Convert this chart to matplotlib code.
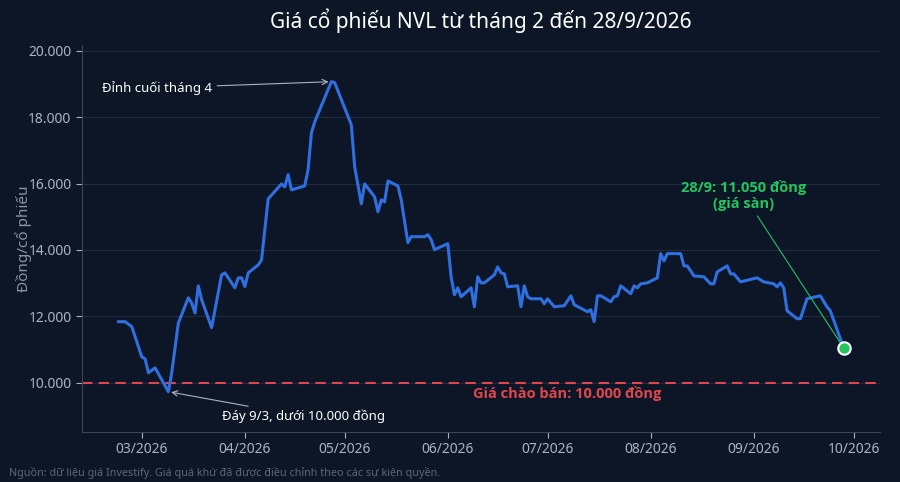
import matplotlib
matplotlib.use("Agg")
import matplotlib.pyplot as plt
import matplotlib.dates as mdates
import pandas as pd

plt.rcParams['font.family'] = ['Noto Sans', 'DejaVu Sans']

dates = ["2026-02-22","2026-02-24","2026-02-26","2026-03-01","2026-03-02","2026-03-03","2026-03-05","2026-03-09",
"2026-03-10","2026-03-12","2026-03-15","2026-03-16","2026-03-17","2026-03-18","2026-03-19","2026-03-22","2026-03-25",
"2026-03-26","2026-03-29","2026-03-30","2026-03-31","2026-04-01","2026-04-02","2026-04-05","2026-04-06","2026-04-08",
"2026-04-12","2026-04-13","2026-04-14","2026-04-15","2026-04-19","2026-04-20","2026-04-21","2026-04-22","2026-04-27",
"2026-04-28","2026-05-03","2026-05-04","2026-05-06","2026-05-07","2026-05-10","2026-05-11","2026-05-12","2026-05-13",
"2026-05-14","2026-05-17","2026-05-18","2026-05-20","2026-05-21","2026-05-25","2026-05-26","2026-05-27","2026-05-28",
"2026-06-01","2026-06-02","2026-06-03","2026-06-04","2026-06-05","2026-06-08","2026-06-09","2026-06-10","2026-06-11",
"2026-06-12","2026-06-15","2026-06-16","2026-06-17","2026-06-18","2026-06-19","2026-06-22","2026-06-23","2026-06-24",
"2026-06-25","2026-06-26","2026-06-29","2026-06-30","2026-07-01","2026-07-03","2026-07-06","2026-07-08","2026-07-09",
"2026-07-13","2026-07-14","2026-07-15","2026-07-16","2026-07-17","2026-07-20","2026-07-21","2026-07-22","2026-07-23",
"2026-07-26","2026-07-27","2026-07-28","2026-07-29","2026-07-31","2026-08-03","2026-08-04","2026-08-05","2026-08-06",
"2026-08-10","2026-08-11","2026-08-12","2026-08-14","2026-08-17","2026-08-19","2026-08-20","2026-08-21","2026-08-24",
"2026-08-25","2026-08-26","2026-08-28","2026-09-02","2026-09-04","2026-09-07","2026-09-08","2026-09-09","2026-09-10",
"2026-09-11","2026-09-14","2026-09-15","2026-09-17","2026-09-21","2026-09-23","2026-09-24","2026-09-28"]
prices = [11840,11840,11690,10780,10720,10300,10450,9730,
10300,11800,12560,12400,12100,12920,12500,11660,13250,
13310,12860,13160,13160,12900,13310,13550,13700,15540,
15990,15900,16270,15810,15930,16420,17530,17860,19070,
19040,17770,16510,15390,15990,15600,15150,15510,15450,
16080,15930,15510,14220,14400,14400,14460,14310,14010,
14190,13190,12650,12860,12590,12860,12290,13190,13010,
13010,13250,13490,13310,13280,12890,12920,12290,12920,
12590,12530,12530,12380,12530,12290,12320,12620,12350,
12140,12200,11840,12620,12620,12440,12590,12620,12920,
12680,12920,12860,12980,13010,13160,13890,13670,13890,
13890,13520,13520,13220,13190,12980,12980,13340,13520,
13280,13280,13040,13160,13040,12980,12890,13010,12860,
12170,11930,11930,12530,12620,12290,12170,11050]
offer_price = 10000

BG = '#0c1627'
BOLD = ['Open Sans', 'DejaVu Sans']
x = pd.to_datetime(dates)

fig = plt.figure(figsize=(9, 4.82), dpi=100, facecolor=BG)
ax = fig.add_axes([0.091, 0.104, 0.887, 0.803], facecolor=BG)

ax.plot(x, prices, color='#2f6fe0', lw=2.2, zorder=3)
ax.axhline(offer_price, color='#e0474c', ls=(0, (5, 3)), lw=1.5, zorder=2)
ax.scatter([x[-1]], [prices[-1]], s=80, color='#22c55e', edgecolor='white', linewidth=1.5, zorder=5)

ax.set_ylim(8520, 20180)
ax.set_xlim(pd.Timestamp("2026-02-11"), pd.Timestamp("2026-10-09"))
ax.set_yticks([10000, 12000, 14000, 16000, 18000, 20000])
ax.yaxis.set_major_formatter(matplotlib.ticker.FuncFormatter(lambda v, p: f"{int(v):,}".replace(",", ".")))
ax.xaxis.set_major_locator(mdates.MonthLocator())
ax.xaxis.set_major_formatter(mdates.DateFormatter('%m/%Y'))
ax.grid(axis='y', color='#1f2b40', lw=0.8)
ax.tick_params(colors='#aab3c2', labelsize=10, length=4)
for s in ['top', 'right']:
    ax.spines[s].set_visible(False)
for s in ['left', 'bottom']:
    ax.spines[s].set_color('#3a4558')
ax.set_ylabel('Đồng/cổ phiếu', color='#8a94a6', fontsize=11)
ax.yaxis.set_label_coords(-0.063, 0.5)

ax.set_title('Giá cổ phiếu NVL từ tháng 2 đến 28/9/2026', color='white', fontsize=15, pad=12)

ax.annotate('Đỉnh cuối tháng 4', xy=(pd.Timestamp("2026-04-27"), 19070),
            xytext=(pd.Timestamp("2026-03-22"), 18880), color='white', fontsize=9.5,
            ha='right', va='center',
            arrowprops=dict(arrowstyle='->', color='#aab3c2', lw=0.8))
ax.annotate('Đáy 9/3, dưới 10.000 đồng', xy=(pd.Timestamp("2026-03-09"), 9730),
            xytext=(pd.Timestamp("2026-03-25"), 8990), color='white', fontsize=9.5,
            ha='left', va='center',
            arrowprops=dict(arrowstyle='->', color='#aab3c2', lw=0.8))
ax.annotate('28/9: 11.050 đồng\n(giá sàn)', xy=(x[-1], prices[-1]),
            xytext=(pd.Timestamp("2026-08-29"), 15650), color='#22c55e', fontsize=10.5,
            fontweight='bold', family=BOLD, ha='center', va='center',
            arrowprops=dict(arrowstyle='-', color='#22c55e', lw=0.8, shrinkA=2))
ax.text(pd.Timestamp("2026-07-07"), 9680, 'Giá chào bán: 10.000 đồng', color='#e0474c',
        fontsize=10.5, fontweight='bold', family=BOLD, ha='center', va='center')

fig.text(0.01, 0.012, 'Nguồn: dữ liệu giá Investify. Giá quá khứ đã được điều chỉnh theo các sự kiện quyền.',
         color='#5d6778', fontsize=7.8)

fig.savefig('out.png', facecolor=BG)
